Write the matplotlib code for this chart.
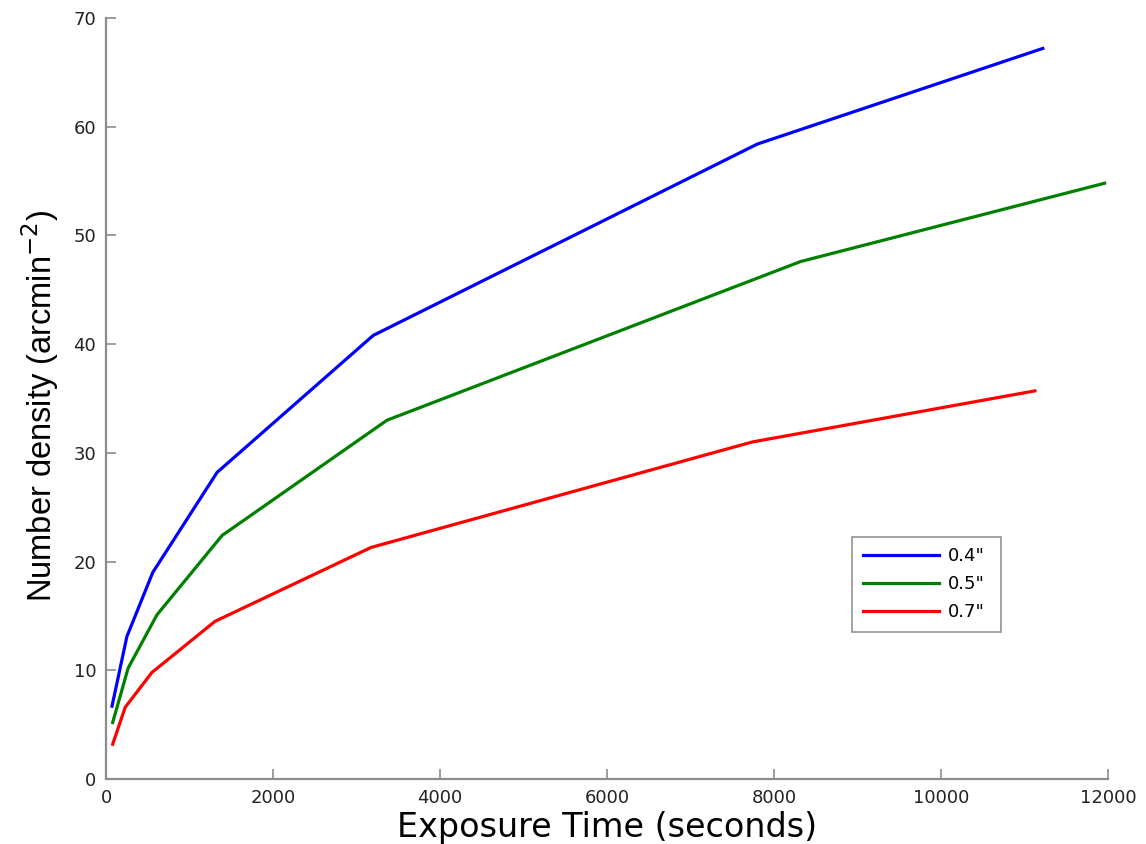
import matplotlib
matplotlib.use('Agg')
import matplotlib.pyplot as plt

plt.rcParams['font.family'] = ['DejaVu Sans']

# seeing values
x_04 = [72, 250, 560, 1330, 3200, 7800, 11220]
y_04 = [6.7, 13.1, 19.0, 28.2, 40.8, 58.4, 67.2]

x_05 = [80, 265, 610, 1390, 3365, 8320, 11960]
y_05 = [5.2, 10.2, 15.1, 22.4, 33.0, 47.6, 54.8]

x_07 = [80, 230, 550, 1305, 3175, 7740, 11125]
y_07 = [3.2, 6.6, 9.8, 14.5, 21.3, 31.0, 35.7]

labels = ['0.4"', '0.5"', '0.7"']
colors = ['#0000ff', '#008000', '#ff0000']

fig = plt.figure(figsize=(11.46, 8.44), dpi=100)
ax = fig.add_axes([0.0925, 0.077, 0.8743, 0.9017])

for xs, ys, lab, c in zip([x_04, x_05, x_07], [y_04, y_05, y_07], labels, colors):
    ax.plot(xs, ys, color=c, lw=2.3, label=lab)

ax.set_xlim(0, 12000)
ax.set_ylim(0, 70)
ax.set_xticks(range(0, 12001, 2000))
ax.set_yticks(range(0, 71, 10))

for s in ['top', 'right']:
    ax.spines[s].set_visible(False)
for s in ['left', 'bottom']:
    ax.spines[s].set_color('#8c8c8c')
    ax.spines[s].set_linewidth(1.6)
ax.tick_params(direction='in', length=7, width=1.2, color='#8c8c8c',
               labelsize=13, labelcolor='#222222', pad=7)

ax.set_xlabel('Exposure Time (seconds)', fontsize=24, labelpad=3)
ax.set_ylabel('Number density (arcmin$^{-2}$)', fontsize=23.5,
              family='Liberation Sans')
ax.yaxis.set_label_coords(-0.045, 0.49)

leg = ax.legend(loc='lower left', bbox_to_anchor=(0.745, 0.193, 0.148, 0.117),
                mode='expand', borderaxespad=0, fontsize=13, handlelength=4.2,
                handletextpad=0.5, frameon=True, fancybox=False, borderpad=0.6,
                labelspacing=0.55)
leg.get_frame().set_edgecolor('#777777')
leg.get_frame().set_linewidth(1.2)

plt.savefig('out.png', dpi=100)
